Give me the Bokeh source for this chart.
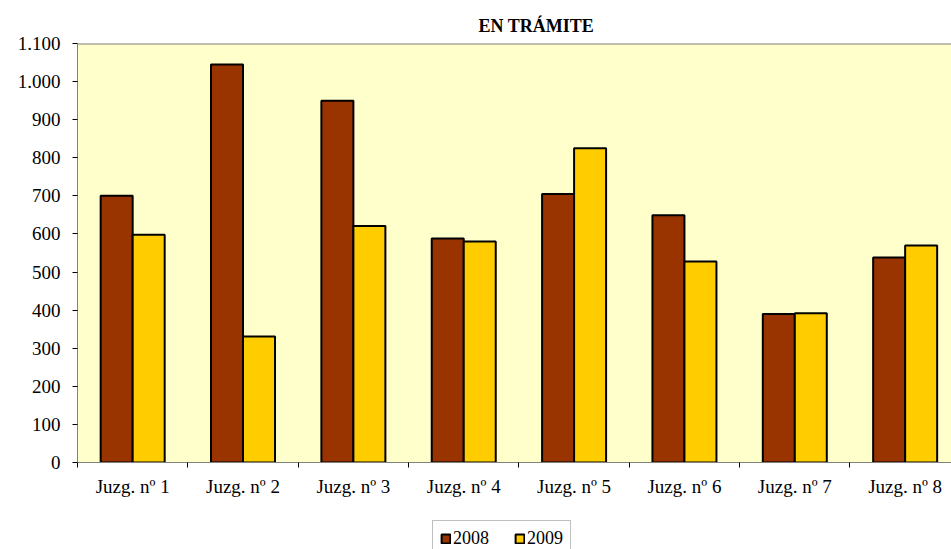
from bokeh.plotting import figure
from bokeh.layouts import column
from bokeh.models import (ColumnDataSource, Range1d, FixedTicker, Legend, LegendItem, Span)
from bokeh.embed import file_html
from bokeh.resources import INLINE

# ---- data ----
categories = ["Juzg. nº 1", "Juzg. nº 2", "Juzg. nº 3", "Juzg. nº 4",
              "Juzg. nº 5", "Juzg. nº 6", "Juzg. nº 7", "Juzg. nº 8"]
series_names = ["2008", "2009"]
values_2008 = [700, 1045, 950, 588, 705, 649, 390, 538]
values_2009 = [598, 331, 621, 580, 825, 528, 392, 570]
y_ticks = [0, 100, 200, 300, 400, 500, 600, 700, 800, 900, 1000, 1100]
y_tick_labels = ["0", "100", "200", "300", "400", "500", "600", "700", "800", "900", "1.000", "1.100"]
title_text = "EN TRÁMITE"

FONT = "Liberation Serif"
C2008 = "#993300"
C2009 = "#FFCC00"
BG = "#FFFFCC"

n = len(categories)
centers = [i + 0.5 for i in range(n)]
bw = 0.29
x08 = [c - 0.145 for c in centers]
x09 = [c + 0.145 for c in centers]

src08 = ColumnDataSource(dict(x=x08, top=values_2008))
src09 = ColumnDataSource(dict(x=x09, top=values_2009))

W = 951
H1, H2 = 510, 39
p = figure(width=W, height=H1, output_backend="svg", toolbar_location=None,
           x_range=Range1d(0, 7.92), y_range=Range1d(0, 1100),
           min_border_left=77, min_border_right=0, min_border_top=43,
           min_border_bottom=48)
p.background_fill_color = BG
p.border_fill_color = "white"
p.outline_line_color = None
p.xgrid.visible = False
p.ygrid.visible = False

r08 = p.vbar(x="x", top="top", bottom=0, width=bw, source=src08,
             fill_color=C2008, line_color="black", line_width=2)
r09 = p.vbar(x="x", top="top", bottom=0, width=bw, source=src09,
             fill_color=C2009, line_color="black", line_width=2)

# top border of plot area
p.add_layout(Span(location=1100, dimension="width", line_color="#808080", line_width=2))

# title
p.title.text = title_text
p.title.align = "left"
p.title.offset = 401
p.title.text_font = FONT
p.title.text_font_size = "18px"
p.title.text_font_style = "bold"
p.title.text_color = "black"
p.title.standoff = 16

# x axis
xa = p.xaxis[0]
xa.ticker = FixedTicker(ticks=centers, minor_ticks=list(range(n + 1)))
xa.major_label_overrides = {c: lab for c, lab in zip(centers, categories)}
xa.major_tick_out = 0
xa.major_tick_in = 0
xa.minor_tick_out = 5
xa.minor_tick_in = 0
xa.minor_tick_line_color = "black"
xa.axis_line_color = "#808080"
xa.axis_line_width = 1
xa.major_label_text_font = FONT
xa.major_label_text_font_size = "19px"
xa.major_label_text_color = "black"
xa.major_label_standoff = 8

# y axis
ya = p.yaxis[0]
ya.ticker = FixedTicker(ticks=y_ticks, minor_ticks=[])
ya.major_label_overrides = {t: l for t, l in zip(y_ticks, y_tick_labels)}
ya.major_tick_out = 5
ya.major_tick_in = 0
ya.major_tick_line_color = "black"
ya.axis_line_color = "#808080"
ya.major_label_text_font = FONT
ya.major_label_text_font_size = "19px"
ya.major_label_text_color = "black"
ya.major_label_standoff = 12

# legend strip below the chart
q = figure(width=W, height=H2, output_backend="svg", toolbar_location=None,
           x_range=Range1d(0, 1), y_range=Range1d(0, 1),
           min_border_left=0, min_border_right=0, min_border_top=0, min_border_bottom=0)
q.axis.visible = False
q.grid.visible = False
q.outline_line_color = None
q.background_fill_color = "white"
q.border_fill_color = "white"
# legend proxies with no drawable data (NaN)
proxy = ColumnDataSource(dict(x=[float("nan")], top=[float("nan")]))
l08 = q.vbar(x="x", top="top", bottom=0, width=0.01, source=proxy,
             fill_color=C2008, line_color="black", line_width=2)
l09 = q.vbar(x="x", top="top", bottom=0, width=0.01, source=proxy,
             fill_color=C2009, line_color="black", line_width=2)

legend = Legend(items=[LegendItem(label=series_names[0], renderers=[l08]),
                       LegendItem(label=series_names[1], renderers=[l09])],
                orientation="horizontal", location=(355, -8))
legend.label_text_font = FONT
legend.label_text_font_size = "18px"
legend.label_text_color = "black"
legend.glyph_width = 11
legend.glyph_height = 11
legend.label_standoff = 2
legend.spacing = 25
legend.padding = 7
legend.margin = 0
legend.border_line_color = "#808080"
legend.border_line_width = 1
legend.background_fill_color = "white"
legend.background_fill_alpha = 1
legend.label_height = 16
q.add_layout(legend, "center")

layout = column(p, q, spacing=0)
open("out.html", "w").write(file_html(layout, INLINE))
